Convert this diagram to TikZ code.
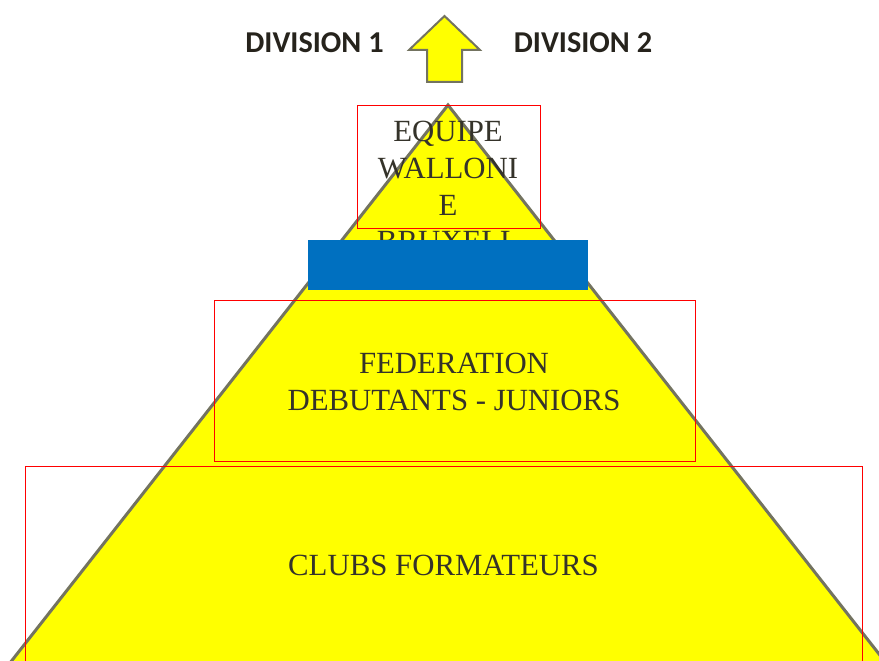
\documentclass[tikz,border=0pt]{standalone}
\usepackage{fontspec}
\setmainfont{Liberation Serif}
\newfontfamily\divfont{Carlito}
\definecolor{pyr}{HTML}{FFFF00}
\definecolor{pyrline}{HTML}{737360}
\definecolor{boxred}{HTML}{FF0000}
\definecolor{bluebar}{HTML}{0070C0}
\definecolor{txt}{HTML}{35332A}
\definecolor{divtxt}{HTML}{26231C}
\tikzset{
  redbox/.style={draw=boxred, line width=0.8pt, fill=none},
  lbl/.style={font=\fontsize{30.8}{36.7}\selectfont, text=txt, anchor=base, inner sep=0pt},
  divlbl/.style={font=\divfont\bfseries\fontsize{30.3}{34}\selectfont, text=divtxt, anchor=base, inner sep=0pt}
}
\begin{document}
\begin{tikzpicture}[x=1pt,y=-1pt]
\useasboundingbox (0,0) rectangle (879,661);
\fill[white] (0,0) rectangle (879,661);
% pyramid
\coordinate (apex) at (448,105);
\begin{scope}
\clip (0,0) rectangle (879,661);
\filldraw[fill=pyr, draw=pyrline, line width=3pt, line join=miter] (-5,682) -- (apex) -- (901,682);
\end{scope}
% text of the top box (overflows below the box)
\node[lbl] (t1) at (448,141.7) {EQUIPE};
\node[lbl] (t2) at (448,178.4) {WALLONI};
\node[lbl] (t3) at (448,215.1) {E};
\node[lbl] (t4) at (448,251.8) {BRUXELL};
% red boxes
\node[redbox, minimum width=183pt, minimum height=123pt, inner sep=0pt] (top) at (448.5,166.5) {};
\node[redbox, minimum width=481pt, minimum height=161pt, inner sep=0pt] (mid) at (454.5,380.5) {};
\node[redbox, minimum width=837pt, minimum height=220pt, inner sep=0pt] (bot) at (443.5,576) {};
% blue bar
\node[fill=bluebar, minimum width=280pt, minimum height=50pt, inner sep=0pt] (bar) at (448,265) {};
% middle and bottom texts
\node[lbl] (f1) at (454,373.3) {FEDERATION};
\node[lbl] (f2) at (454,410) {DEBUTANTS - JUNIORS};
\node[lbl] (c1) at (443.5,575) {CLUBS FORMATEURS};
% arrow
\filldraw[fill=pyr, draw=pyrline, line width=2pt, line join=miter]
  (444.5,16) -- (480,50) -- (462,50) -- (462,82) -- (427,82) -- (427,50) -- (409,50) -- cycle;
% divisions
\node[divlbl] (d1) at (314.5,53) {DIVISION 1};
\node[divlbl] (d2) at (583,53) {DIVISION 2};
\end{tikzpicture}
\end{document}
